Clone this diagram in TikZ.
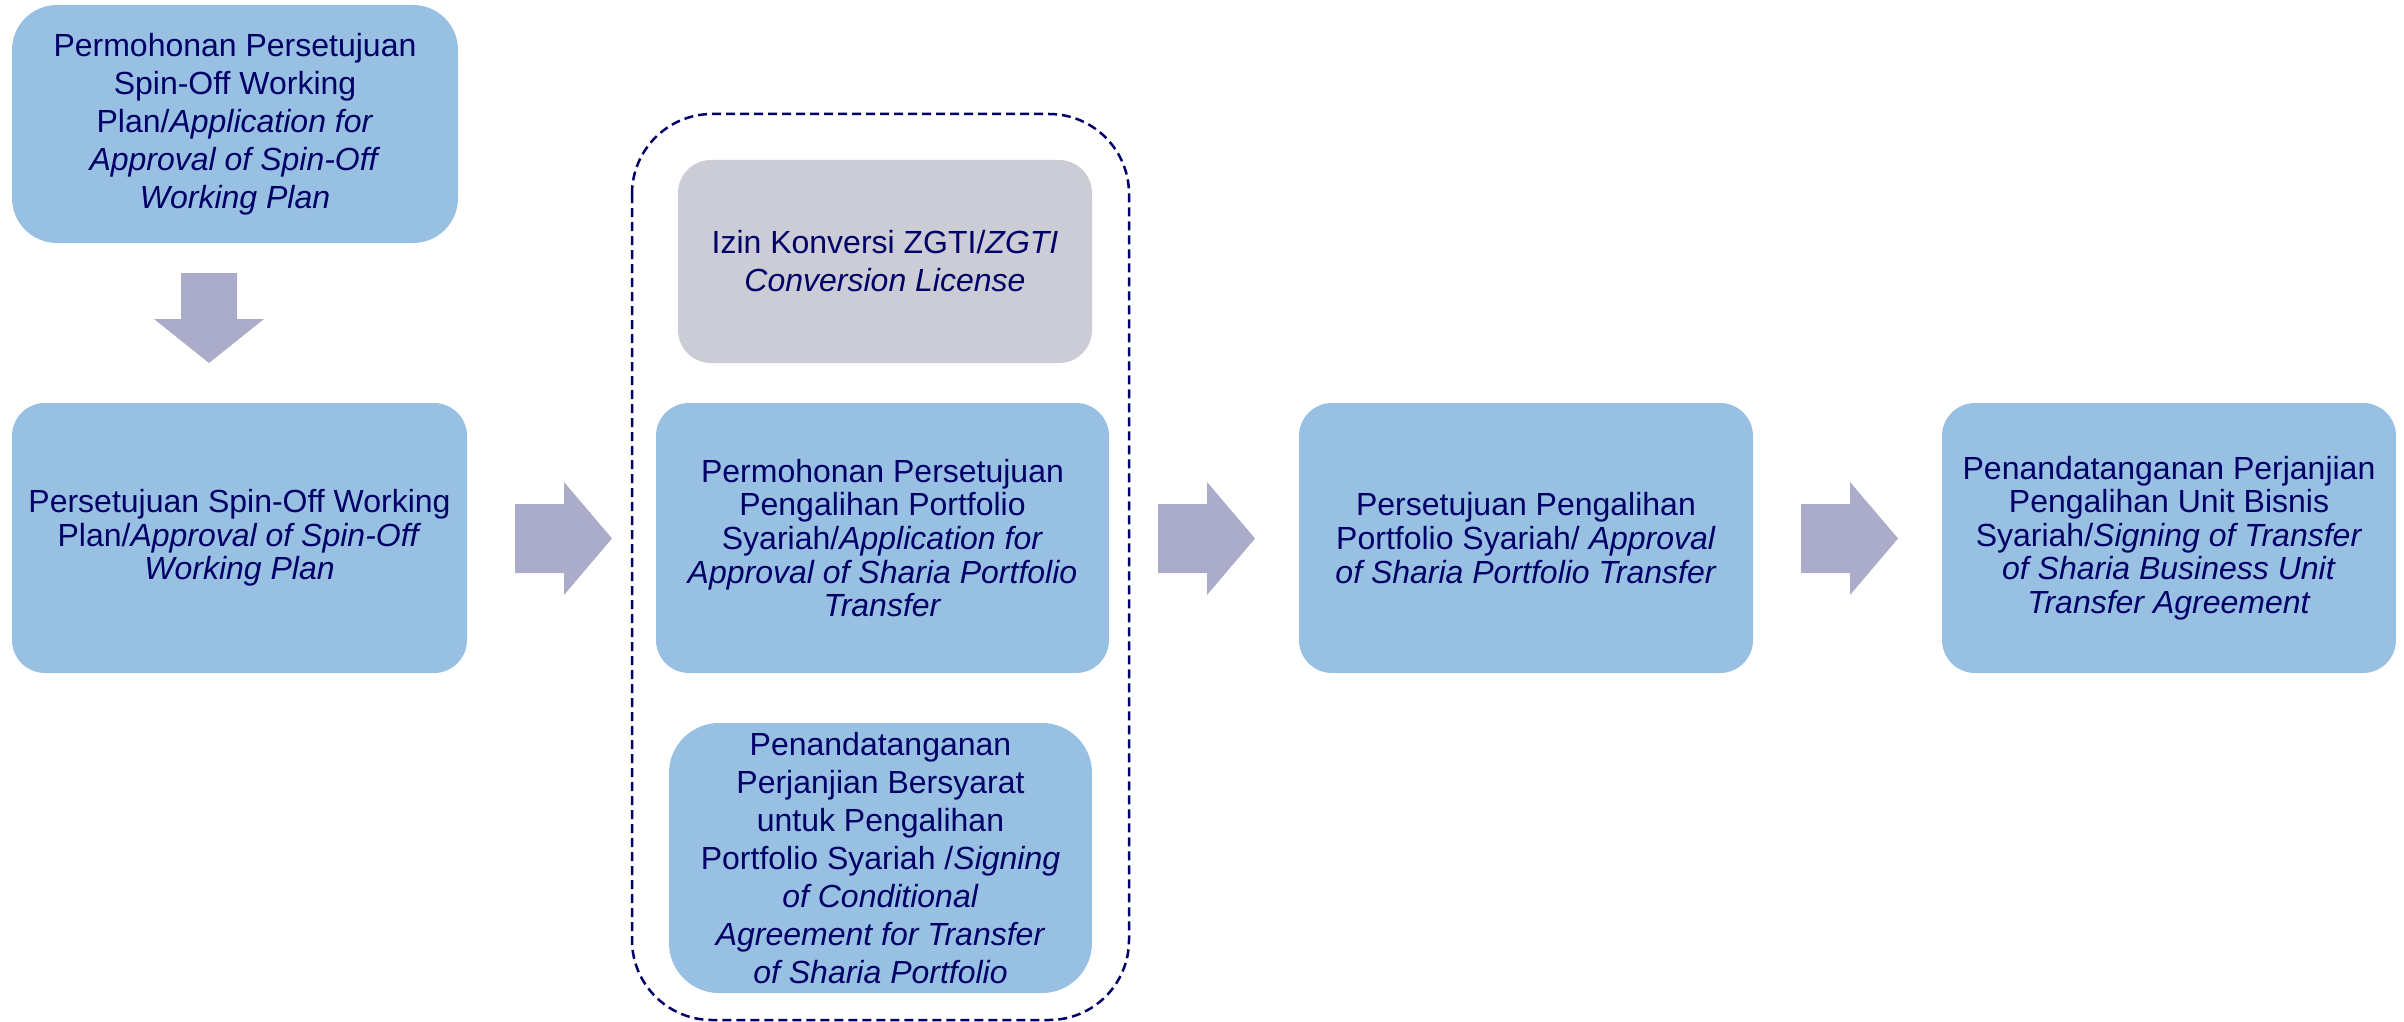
\documentclass[tikz,border=0pt]{standalone}
\usepackage{fontspec}
\setmainfont{Liberation Sans}
\definecolor{boxblue}{RGB}{151,192,226}
\definecolor{boxgray}{RGB}{203,204,214}
\definecolor{arrowc}{RGB}{170,172,202}
\definecolor{navy}{RGB}{0,0,102}
\tikzset{
  card/.style={fill=boxblue, draw=none, rounded corners=#1, inner sep=0pt, align=center,
    text=navy, font=\fontsize{32}{33.6}\selectfont},
  card/.default=33pt,
  loose/.style={font=\fontsize{32}{38}\selectfont},
  graycard/.style={card, fill=boxgray},
  frame/.style={draw=navy, line width=2.5pt, dash pattern=on 9pt off 5pt, rounded corners=80pt},
  rarrow/.pic={\fill[arrowc] (0,-34.5) -- (49,-34.5) -- (49,-56.5) -- (97,0) -- (49,56.5) -- (49,34.5) -- (0,34.5) -- cycle;},
  darrow/.pic={\fill[arrowc] (-28,0) -- (28,0) -- (28,46) -- (55,46) -- (0,90) -- (-55,46) -- (-28,46) -- cycle;}
}
\begin{document}
\begin{tikzpicture}[x=1pt,y=-1pt]
\useasboundingbox (0,0) rectangle (2404,1022);
% dashed group frame
\draw[frame] (632,114) rectangle (1129,1020);
% boxes
\node[card=45pt, loose, minimum width=446pt, minimum height=238pt] (A) at (235,124)
  {Permohonan Persetujuan\\Spin-Off Working\\Plan/\textit{Application for}\\\textit{Approval of Spin-Off}\\\textit{Working Plan}};
\node[card, minimum width=455pt, minimum height=270pt] (B) at (239.5,538)
  {Persetujuan Spin-Off Working\\Plan/\textit{Approval of Spin-Off}\\\textit{Working Plan}};
\node[graycard, loose, minimum width=414pt, minimum height=203pt] (G) at (885,261.5)
  {Izin Konversi ZGTI/\textit{ZGTI}\\\textit{Conversion License}};
\node[card, minimum width=453pt, minimum height=270pt] (C) at (882.5,538)
  {Permohonan Persetujuan\\Pengalihan Portfolio\\Syariah/\textit{Application for}\\\textit{Approval of Sharia Portfolio}\\\textit{Transfer}};
\node[card=50pt, loose, minimum width=423pt, minimum height=270pt] (F) at (880.5,858)
  {Penandatanganan\\Perjanjian Bersyarat\\untuk Pengalihan\\Portfolio Syariah /\textit{Signing}\\\textit{of Conditional}\\\textit{Agreement for Transfer}\\\textit{of Sharia Portfolio}};
\node[card, minimum width=454pt, minimum height=270pt] (D) at (1526,538)
  {Persetujuan Pengalihan\\Portfolio Syariah/ \textit{Approval}\\\textit{of Sharia Portfolio Transfer}};
\node[card, minimum width=454pt, minimum height=270pt] (E) at (2169,538)
  {Penandatanganan Perjanjian\\Pengalihan Unit Bisnis\\Syariah/\textit{Signing of Transfer}\\\textit{of Sharia Business Unit}\\\textit{Transfer Agreement}};
% block arrows
\pic at (209,273) {darrow};
\pic at (515,538.5) {rarrow};
\pic at (1158,538.5) {rarrow};
\pic at (1801,538.5) {rarrow};
\end{tikzpicture}
\end{document}
